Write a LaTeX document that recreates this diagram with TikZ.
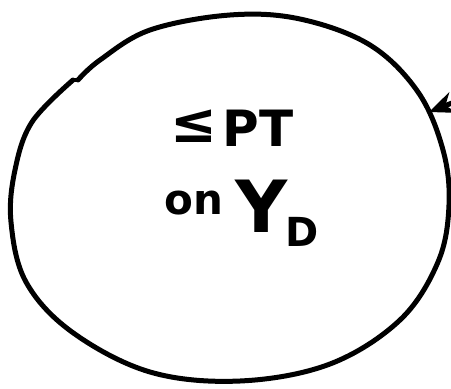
\documentclass[tikz,border=0pt]{standalone}
\usepackage{fontspec}
\setmainfont{DejaVu Sans}
\usetikzlibrary{arrows.meta}
\begin{document}
\begin{tikzpicture}[x=1pt,y=-1pt,
  ink/.style={line width=5pt,line cap=round,line join=round,black},
  hand/.style={inner sep=0pt,font=\bfseries}]
\useasboundingbox (0,0) rectangle (451,389);
% hand-drawn circle
\draw[ink] plot[smooth,tension=0.6] coordinates {
  (78,80) (100,60) (150,30) (230,15) (300,19) (370,45) (418,92) (443,150)
  (449,205) (438,262) (400,320) (330,364) (240,381) (150,372)
  (72,332) (26,282) (11,222) (15,170) (32,122) (73,80)};
\draw[ink,line width=3.5pt] (73,80) -- (78,80);
% text
\node[hand,font=\bfseries\fontsize{56}{56}\selectfont] (le) at (194,126) {≤};
\node[hand,font=\bfseries\fontsize{50}{50}\selectfont] (pt) at (258,128) {PT};
\node[hand,font=\bfseries\fontsize{42}{42}\selectfont] (on) at (194,203) {on};
\node[hand,font=\bfseries\fontsize{72}{72}\selectfont] (y) at (262,206) {Y};
\node[hand,font=\bfseries\fontsize{40}{40}\selectfont] (d) at (302,232) {D};
% arrow pointing to circle
\coordinate (src) at (475,94);
\coordinate (tip) at (429,112);
\draw[ink,-{Stealth[length=26pt,width=22pt]}] (src) -- (tip);
\end{tikzpicture}
\end{document}
